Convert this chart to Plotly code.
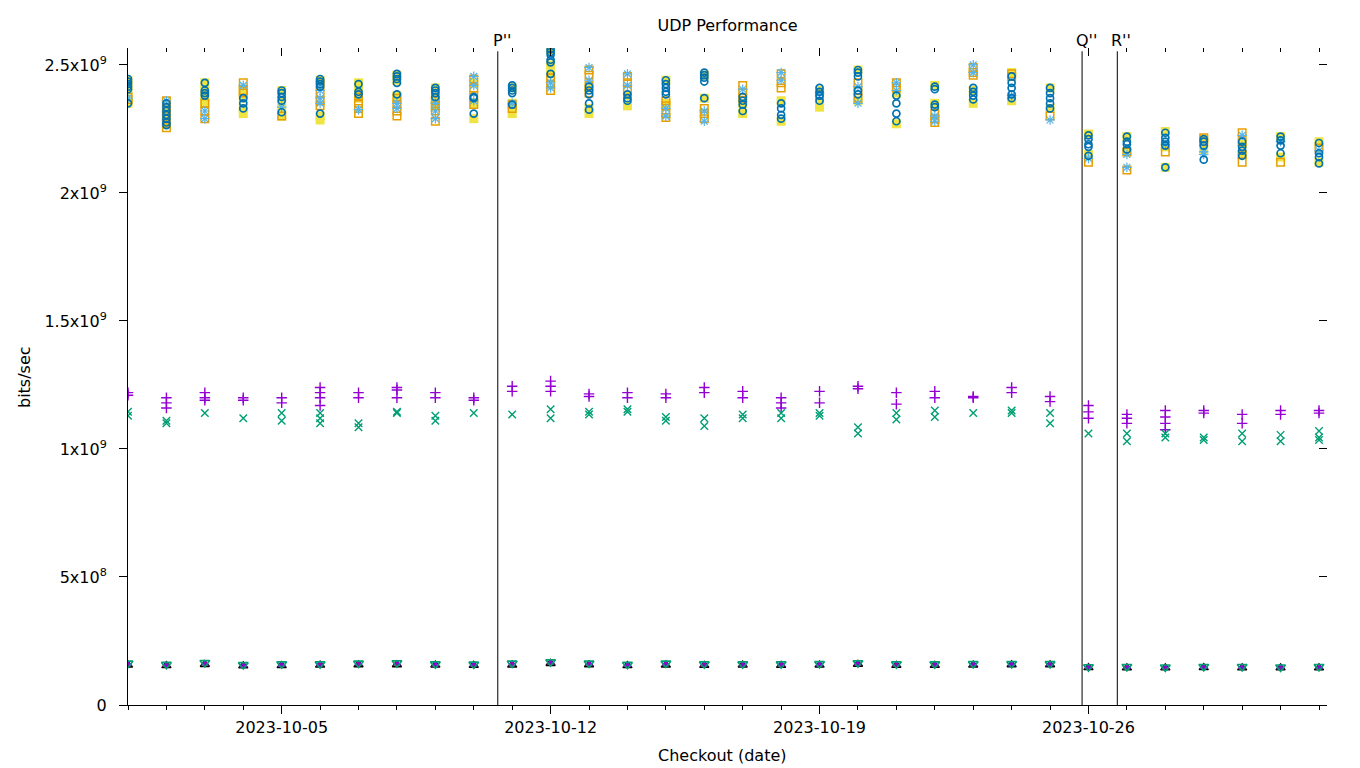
import plotly.graph_objects as go

# ---------------- data ----------------
dates = [
    "2023-10-01", "2023-10-02", "2023-10-03", "2023-10-04", "2023-10-05", "2023-10-06",
    "2023-10-07", "2023-10-08", "2023-10-09", "2023-10-10", "2023-10-11", "2023-10-12",
    "2023-10-13", "2023-10-14", "2023-10-15", "2023-10-16", "2023-10-17", "2023-10-18",
    "2023-10-19", "2023-10-20", "2023-10-21", "2023-10-22", "2023-10-23", "2023-10-24",
    "2023-10-25", "2023-10-26", "2023-10-27", "2023-10-28", "2023-10-29", "2023-10-30",
    "2023-10-31", "2023-11-01",
]
UNIT = 1e9  # values below are in units of 10^9 bits/sec

purple_plus = [
    [1.22, 1.21], [1.20, 1.18, 1.16], [1.22, 1.20, 1.19], [1.20, 1.19], [1.20, 1.18],
    [1.24, 1.22, 1.20, 1.17], [1.22, 1.20], [1.24, 1.23, 1.20], [1.22, 1.20], [1.20, 1.19],
    [1.245, 1.225], [1.265, 1.245, 1.225], [1.215, 1.205], [1.22, 1.20], [1.215, 1.20],
    [1.24, 1.22], [1.225, 1.20], [1.20, 1.18, 1.16], [1.225, 1.18], [1.245, 1.235],
    [1.22, 1.175], [1.225, 1.20], [1.205, 1.20], [1.24, 1.22], [1.205, 1.185],
    [1.17, 1.145, 1.12], [1.135, 1.12, 1.10], [1.15, 1.125, 1.10, 1.075], [1.15, 1.14],
    [1.135, 1.10], [1.15, 1.135], [1.15, 1.14],
]
green_x = [
    [1.145, 1.13], [1.11, 1.10], [1.14], [1.12], [1.14, 1.11],
    [1.14, 1.12, 1.10], [1.10, 1.085], [1.145, 1.14], [1.13, 1.11], [1.14],
    [1.135], [1.155, 1.12], [1.145, 1.135], [1.155, 1.145], [1.125, 1.11],
    [1.12, 1.09], [1.135, 1.12], [1.14, 1.12], [1.14, 1.13], [1.085, 1.06],
    [1.14, 1.115], [1.15, 1.125], [1.14], [1.15, 1.14], [1.14, 1.10],
    [1.06], [1.06, 1.03], [1.06, 1.045], [1.045, 1.035], [1.06, 1.03],
    [1.055, 1.03], [1.07, 1.045, 1.035],
]
lightblue_star = [
    [2.37], [2.36], [2.32, 2.29], [2.42], [2.335], [2.40, 2.37, 2.35], [2.325],
    [2.35, 2.33], [2.35, 2.32, 2.29], [2.455, 2.42, 2.36], [2.35], [2.43, 2.41],
    [2.49, 2.44], [2.465, 2.42], [2.33, 2.30], [2.32, 2.28], [2.405], [2.47, 2.44],
    [2.39], [2.415, 2.35], [2.43, 2.40], [2.30, 2.28], [2.50, 2.47], [2.38],
    [2.285], [2.135], [2.15, 2.10], [2.19], [2.16, 2.15], [2.225], [2.20], [2.165],
]
orange_square = [
    [2.375, 2.365], [2.36, 2.33, 2.30, 2.27, 2.255], [2.35, 2.32, 2.29], [2.43, 2.40, 2.39],
    [2.30], [2.425, 2.39, 2.36, 2.34], [2.375, 2.35, 2.33, 2.31], [2.37, 2.345, 2.32, 2.30],
    [2.36, 2.34, 2.32, 2.28], [2.445, 2.41, 2.38, 2.345], [2.345, 2.33], [2.45, 2.425, 2.40],
    [2.48, 2.46, 2.42, 2.39], [2.455, 2.43, 2.40], [2.36, 2.34, 2.31, 2.295], [2.33, 2.31, 2.29],
    [2.42, 2.39, 2.37], [2.465, 2.43, 2.41], [2.38], [2.43, 2.40, 2.37], [2.43, 2.41],
    [2.31, 2.29, 2.275], [2.49, 2.47, 2.46], [2.465, 2.455], [2.30], [2.12], [2.16, 2.09],
    [2.16], [2.215, 2.20], [2.235, 2.20, 2.15, 2.12], [2.12], [2.175],
]
yellow_square = [
    [2.44, 2.42, 2.40, 2.36, 2.35], [2.34, 2.30, 2.27], [2.43, 2.40, 2.38, 2.35],
    [2.40, 2.37, 2.33, 2.31], [2.40, 2.36, 2.33, 2.30], [2.44, 2.30, 2.285], [2.43, 2.40, 2.37],
    [2.46, 2.44, 2.38], [2.41, 2.37, 2.34], [2.43, 2.35, 2.29], [2.41, 2.35, 2.31],
    [2.56, 2.50, 2.465], [2.41, 2.33, 2.31], [2.38, 2.34], [2.44, 2.35], [2.46, 2.37],
    [2.35, 2.31], [2.36, 2.28], [2.40, 2.35, 2.335], [2.48, 2.36], [2.39, 2.27], [2.42, 2.35],
    [2.40, 2.35], [2.47, 2.36], [2.41, 2.33], [2.23, 2.15], [2.22, 2.16], [2.24, 2.18, 2.10],
    [2.21, 2.17], [2.19, 2.15], [2.22, 2.14], [2.20, 2.12],
]
blue_circle = [
    [2.445, 2.435, 2.425, 2.415, 2.405, 2.35], [2.35, 2.335, 2.32, 2.305, 2.29, 2.275, 2.265],
    [2.43, 2.40, 2.39, 2.38], [2.37, 2.35, 2.33], [2.40, 2.39, 2.375, 2.36, 2.315],
    [2.445, 2.435, 2.425, 2.415, 2.31], [2.425, 2.395, 2.385], [2.465, 2.455, 2.445, 2.43, 2.385],
    [2.41, 2.40, 2.39, 2.375], [2.375, 2.37, 2.31], [2.42, 2.41, 2.40, 2.39, 2.345],
    [2.56, 2.55, 2.54, 2.52, 2.51, 2.465], [2.415, 2.40, 2.385, 2.35, 2.325], [2.385, 2.37, 2.36],
    [2.44, 2.425, 2.41, 2.395, 2.385], [2.47, 2.46, 2.45, 2.435, 2.37], [2.375, 2.36, 2.345, 2.32],
    [2.35, 2.33, 2.305, 2.29], [2.41, 2.395, 2.38, 2.36], [2.48, 2.47, 2.455, 2.40, 2.385],
    [2.38, 2.35, 2.31, 2.28], [2.415, 2.405, 2.345, 2.335], [2.41, 2.395, 2.38, 2.365],
    [2.455, 2.43, 2.41, 2.385, 2.37], [2.41, 2.39, 2.37, 2.35, 2.33],
    [2.225, 2.21, 2.19, 2.18, 2.145], [2.22, 2.20, 2.19, 2.17], [2.235, 2.215, 2.20, 2.185, 2.10],
    [2.21, 2.20, 2.185, 2.13], [2.20, 2.18, 2.165, 2.145], [2.22, 2.205, 2.185, 2.155],
    [2.195, 2.155, 2.14, 2.115],
]
red_dot = [
    0.159, 0.156, 0.162, 0.156, 0.158, 0.159, 0.161, 0.161, 0.159, 0.158, 0.160, 0.165,
    0.161, 0.157, 0.160, 0.158, 0.159, 0.158, 0.159, 0.162, 0.158, 0.158, 0.159, 0.159,
    0.159, 0.148, 0.148, 0.147, 0.148, 0.148, 0.147, 0.148,
]
black_triangle = [
    0.156, 0.154, 0.158, 0.153, 0.154, 0.156, 0.157, 0.157, 0.156, 0.155, 0.156, 0.162,
    0.157, 0.154, 0.156, 0.155, 0.156, 0.155, 0.156, 0.159, 0.155, 0.155, 0.156, 0.157,
    0.157, 0.146, 0.145, 0.145, 0.146, 0.145, 0.145, 0.145,
]
purple_triangle = [
    0.160, 0.156, 0.162, 0.155, 0.157, 0.159, 0.161, 0.162, 0.158, 0.158, 0.161, 0.166,
    0.161, 0.156, 0.161, 0.158, 0.158, 0.158, 0.159, 0.162, 0.158, 0.158, 0.159, 0.159,
    0.159, 0.148, 0.148, 0.147, 0.148, 0.148, 0.147, 0.148,
]
green_triangle = [
    0.163, 0.158, 0.165, 0.157, 0.160, 0.160, 0.163, 0.164, 0.160, 0.159, 0.163, 0.168,
    0.163, 0.158, 0.163, 0.160, 0.160, 0.160, 0.161, 0.164, 0.160, 0.160, 0.161, 0.161,
    0.161, 0.149, 0.150, 0.148, 0.150, 0.150, 0.148, 0.150,
]

event_dates = ["2023-10-10 15:00", "2023-10-25 20:00", "2023-10-26 18:00"]
event_labels = ["P''", "Q''", "R''"]

y_tickvals = [0, 5e8, 1e9, 1.5e9, 2e9, 2.5e9]
y_ticktext = ["0", "5x10<sup>8</sup>", "1x10<sup>9</sup>", "1.5x10<sup>9</sup>",
              "2x10<sup>9</sup>", "2.5x10<sup>9</sup>"]
x_range = ["2023-10-01", "2023-11-01 05:00"]
y_range = [0, 2.566e9]

# ---------------- build ----------------
def flatten(series):
    xs, ys = [], []
    for d, vals in zip(dates, series):
        if not isinstance(vals, list):
            vals = [vals]
        for v in vals:
            xs.append(d)
            ys.append(v * UNIT)
    return xs, ys

fig = go.Figure()

def add(series, symbol, color, size, lw=1.2):
    xs, ys = flatten(series)
    marker = dict(symbol=symbol, size=size, color=color,
                  line=dict(color=color, width=lw))
    fig.add_trace(go.Scatter(x=xs, y=ys, mode="markers", marker=marker,
                             hoverinfo="x+y", showlegend=False))

add(purple_plus, "cross-thin-open", "#9400d3", 7.5, lw=1.4)
add(green_x, "x-thin-open", "#009e73", 7.5, lw=1.4)
add(yellow_square, "square", "#f0e442", 9, lw=0)
add(orange_square, "square-open", "#e69f00", 7.5, lw=1.5)
add(lightblue_star, "asterisk-open", "#56b4e9", 8, lw=1.2)
add(blue_circle, "circle-open", "#0072b2", 7, lw=1.7)
add(red_dot, "circle", "#e51e10", 5, lw=0)
add(black_triangle, "triangle-up-open", "#000000", 8, lw=1.4)
add(purple_triangle, "triangle-up", "#9400d3", 7.5, lw=0)
add(green_triangle, "triangle-down-open", "#009e73", 8.5, lw=1.6)

# helper trace so mirrored axes render
fig.add_trace(go.Scatter(x=[], y=[], xaxis="x2", yaxis="y2", showlegend=False))

# page body adds an 8px offset; figure is sized so the plot lands where the reference has it
FIG_W, FIG_H = 1352, 760
M_L, M_T, M_R, M_B = 120, 40, 33, 63
PLOT_W = FIG_W - M_L - M_R
PLOT_H = FIG_H - M_T - M_B

for d, lab in zip(event_dates, event_labels):
    fig.add_shape(type="line", xref="x", yref="paper", x0=d, x1=d, y0=0, y1=0.995,
                  line=dict(color="black", width=1))
    fig.add_annotation(x=d, xref="x", y=1 + 8 / PLOT_H, yref="paper", text=lab,
                       showarrow=False, xanchor="center", yanchor="middle", xshift=4,
                       font=dict(size=16, color="black"))

# axis titles
fig.add_annotation(x=(722 - 128) / PLOT_W, xref="paper", y=-50 / PLOT_H, yref="paper",
                   text="Checkout (date)", showarrow=False, xanchor="center", yanchor="middle",
                   font=dict(size=16, color="black"))
fig.add_annotation(x=-104 / PLOT_W, xref="paper", y=(705 - 377) / PLOT_H, yref="paper",
                   text="bits/sec", textangle=-90, showarrow=False, xanchor="center",
                   yanchor="middle", font=dict(size=16, color="black"))

DAY = 86400000
fig.update_layout(
    width=FIG_W, height=FIG_H,
    margin=dict(l=M_L, r=M_R, t=M_T, b=M_B, autoexpand=False),
    plot_bgcolor="white", paper_bgcolor="white",
    showlegend=False,
    font=dict(family="DejaVu Sans", size=16, color="black"),
    title=dict(text="UDP Performance", x=0.5, xref="paper", xanchor="center",
               y=1 - 17 / FIG_H, yref="container", yanchor="middle",
               font=dict(size=16, color="black")),
    xaxis=dict(type="date", range=x_range, tick0="2023-10-05", dtick=7 * DAY,
               tickformat="%Y-%m-%d", ticks="outside", ticklen=8, tickcolor="black",
               showline=True, linecolor="black", linewidth=1, showgrid=False,
               zeroline=False, automargin=False,
               minor=dict(dtick=DAY, tick0="2023-10-01", ticks="outside", ticklen=4,
                          tickcolor="black", showgrid=False)),
    xaxis2=dict(type="date", range=x_range, overlaying="x", side="top", anchor="y",
                tick0="2023-10-05", dtick=7 * DAY, ticks="inside", ticklen=8,
                tickcolor="black", showticklabels=False, showline=False, showgrid=False,
                zeroline=False, automargin=False,
                minor=dict(dtick=DAY, tick0="2023-10-01", ticks="inside", ticklen=4,
                           tickcolor="black", showgrid=False)),
    yaxis=dict(range=y_range, tickvals=y_tickvals, ticktext=y_ticktext,
               ticks="outside", ticklen=8, tickcolor="black", showline=True,
               linecolor="black", linewidth=1, showgrid=False, zeroline=False,
               automargin=False, ticklabelstandoff=9),
    yaxis2=dict(range=y_range, tickvals=y_tickvals, overlaying="y", side="right",
                anchor="x", ticks="inside", ticklen=8, tickcolor="black",
                showticklabels=False, showline=False, showgrid=False, zeroline=False,
                automargin=False),
)

fig.write_html("out.html")
